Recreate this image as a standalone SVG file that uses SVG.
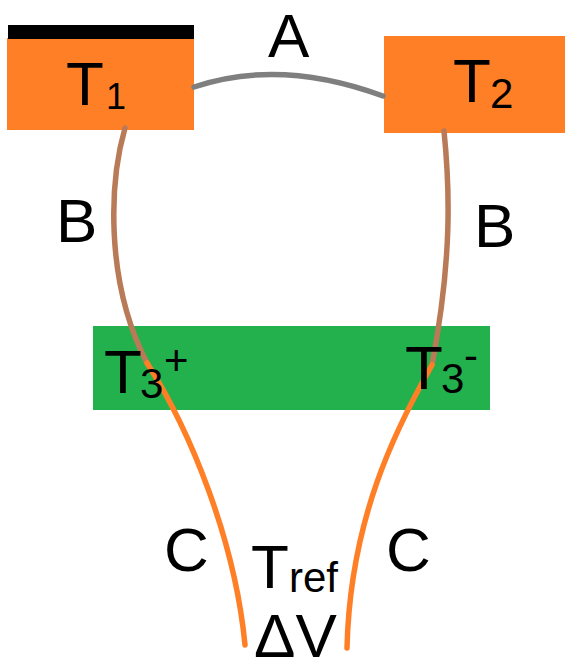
<svg xmlns="http://www.w3.org/2000/svg" width="565" height="662" viewBox="0 0 565 662">
  <style>
    text { font-family: "Liberation Sans", Arial, sans-serif; fill: #000; }
    .big { font-size: 62px; }
    .sub { font-size: 42px; }
    .wire { fill: none; stroke-width: 5.5; stroke-linecap: round; }
    .a { stroke: #7f7f7f; }
    .b { stroke: #b97a57; }
    .c { stroke: #ff7f27; }
    .hot { fill: #ff7f27; }
  </style>
  <rect width="565" height="662" fill="#fff"/>

  <!-- junction blocks -->
  <g id="t1">
    <rect class="hot" x="7" y="38" width="187" height="92"/>
    <rect x="8" y="25" width="186" height="14" fill="#000"/>
    <text class="big" x="66" y="105">T</text>
    <text x="106" y="109" style="font-size:36px">1</text>
  </g>
  <g id="t2">
    <rect class="hot" x="384" y="36" width="181" height="97"/>
    <text class="big" x="453" y="102">T</text>
    <text class="sub" x="490" y="108">2</text>
  </g>
  <g id="t3">
    <rect x="93" y="326" width="397" height="84" fill="#22b14c"/>
  </g>

  <!-- wires -->
  <g id="connectors">
    <path class="wire a" d="M194,87 Q280,58 383,96"/>
    <path class="wire b" d="M125,128 C110,180 104,280 147,363"/>
    <path class="wire b" d="M444,131 C450,190 452,260 432,365"/>
    <path class="wire c" d="M147,363 C190,430 235,540 245,645"/>
    <path class="wire c" d="M432,365 C395,430 350,520 347,648"/>
  </g>

  <!-- labels -->
  <g id="t3-labels">
    <text class="big" x="104" y="393">T</text>
    <text class="sub" x="140" y="398">3</text>
    <text class="sub" x="164" y="375">+</text>
    <text class="big" x="405" y="389">T</text>
    <text class="sub" x="441" y="393">3</text>
    <text class="sub" x="464" y="370">-</text>
  </g>
  <g id="label-a"><text class="big" x="268" y="57">A</text></g>
  <g id="label-b1"><text class="big" x="56" y="242">B</text></g>
  <g id="label-b2"><text class="big" x="474" y="247">B</text></g>
  <g id="label-c1"><text class="big" x="164" y="571">C</text></g>
  <g id="label-c2"><text class="big" x="386" y="571">C</text></g>
  <g id="tref">
    <text class="big" x="251" y="588">T</text>
    <text class="sub" x="289" y="592">ref</text>
  </g>
  <g id="dv"><text class="big" x="254" y="657">ΔV</text></g>
</svg>
